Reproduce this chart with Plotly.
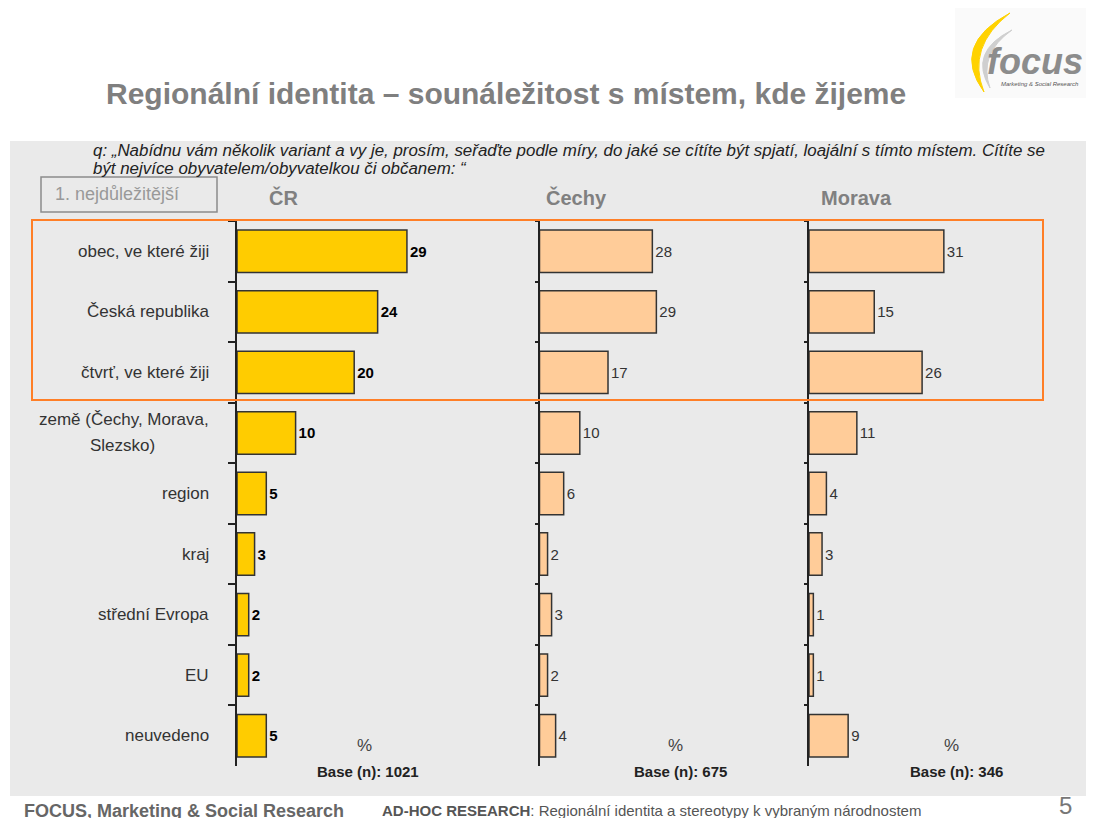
import plotly.graph_objects as go

# page is offset by the default 8px body margin
OFF = 8
FW, FH = 1094 - OFF, 818 - OFF

categories = ["obec, ve které žiji", "Česká republika", "čtvrť, ve které žiji",
              "země (Čechy, Morava, Slezsko)", "region", "kraj",
              "střední Evropa", "EU", "neuvedeno"]
cr_values = [29, 24, 20, 10, 5, 3, 2, 2, 5]
cechy_values = [28, 29, 17, 10, 6, 2, 3, 2, 4]
morava_values = [31, 15, 26, 11, 4, 3, 1, 1, 9]
panel_titles = ["ČR", "Čechy", "Morava"]
bases = ["Base (n): 1021", "Base (n): 675", "Base (n): 346"]

title = "Regionální identita – sounáležitost s místem, kde žijeme"
question_lines = ["q: „Nabídnu vám několik variant a vy je, prosím, seřaďte podle míry, do jaké se cítíte být spjatí, "
                  "loajální s tímto místem. Cítíte se",
                  "být nejvíce obyvatelem/obyvatelkou či občanem: “"]
legend_label = "1. nejdůležitější"
footer_left = "FOCUS, Marketing & Social Research"
footer_mid = "<b>AD-HOC RESEARCH</b>: Regionální identita a stereotypy k vybraným národnostem"
page_no = "5"


def px(x):
    return (x - OFF) / FW


def py(y):
    return 1 - (y - OFF) / FH


def path(points):
    out = []
    for cmd, pts in points:
        s = cmd
        for (x, y) in pts:
            s += f" {px(x):.5f},{py(y):.5f}"
        out.append(s)
    return " ".join(out) + " Z"


FONT = "Liberation Sans, Arial, sans-serif"
ydom = [py(766), py(221)]

fig = go.Figure()

panels = [
    (cr_values, "#FFCC00", dict(color="#000000", size=15, family=FONT, weight="bold"), "x", "y"),
    (cechy_values, "#FFCC99", dict(color="#333333", size=15, family=FONT), "x2", "y2"),
    (morava_values, "#FFCC99", dict(color="#333333", size=15, family=FONT), "x3", "y3"),
]
for vals, col, tf, xa, ya in panels:
    fig.add_trace(go.Bar(
        x=vals, y=categories, orientation="h", xaxis=xa, yaxis=ya,
        marker=dict(color=col, line=dict(color="#333333", width=1.5)),
        width=0.7, text=[str(v) for v in vals], textposition="outside",
        textfont=tf, cliponaxis=False, showlegend=False, hoverinfo="skip"))

xdoms_px = [(237, 537), (539.5, 807), (809, 1085)]
scales = [5.86, 4.03, 4.35]
for i, ((a, b), s) in enumerate(zip(xdoms_px, scales)):
    key = "xaxis" if i == 0 else f"xaxis{i+1}"
    fig.layout[key] = dict(domain=[px(a), px(b)], range=[0, (b - a) / s], visible=False,
                           anchor="y" if i == 0 else f"y{i+1}")
for i in range(3):
    key = "yaxis" if i == 0 else f"yaxis{i+1}"
    fig.layout[key] = dict(
        domain=ydom, type="category", range=[8.5, -0.5],
        anchor="x" if i == 0 else f"x{i+1}",
        showline=True, linecolor="#222222", linewidth=2 if i == 0 else 1.5,
        ticks="outside", ticklen=7 if i == 0 else 3, tickwidth=1.5,
        tickcolor="#222222", tickson="boundaries",
        showticklabels=False, showgrid=False, zeroline=False)

annotations = []
catfont = dict(family=FONT, size=17, color="#333333")
for c in categories:
    if c.startswith("země"):
        annotations.append(dict(x=px(211), y=c, xref="paper", yref="y", text="země (Čechy, Morava,",
                                showarrow=False, xanchor="right", yanchor="middle", yshift=13,
                                font=catfont))
        annotations.append(dict(x=px(123), y=c, xref="paper", yref="y", text="Slezsko)",
                                showarrow=False, xanchor="center", yanchor="middle", yshift=-13,
                                font=catfont))
    else:
        annotations.append(dict(x=px(211), y=c, xref="paper", yref="y", text=c,
                                showarrow=False, xanchor="right", yanchor="middle",
                                font=catfont))
# title
annotations.append(dict(x=px(104), y=py(93), xref="paper", yref="paper", text=title,
                        showarrow=False, xanchor="left", yanchor="middle",
                        font=dict(family=FONT, size=30, color="#7F7F7F", weight="bold")))
# question
for line, yy in zip(question_lines, [151, 169]):
    annotations.append(dict(x=px(91), y=py(yy), xref="paper", yref="paper", text=line,
                            showarrow=False, xanchor="left", yanchor="middle", align="left",
                            font=dict(family=FONT, size=16.9, color="#222222", style="italic")))
# legend label
annotations.append(dict(x=px(53), y=py(194), xref="paper", yref="paper", text=legend_label,
                        showarrow=False, xanchor="left", yanchor="middle",
                        font=dict(family=FONT, size=18, color="#999999")))
# panel titles
for t, x in zip(panel_titles, [267, 544, 819]):
    annotations.append(dict(x=px(x), y=py(198), xref="paper", yref="paper", text=t,
                            showarrow=False, xanchor="left", yanchor="middle",
                            font=dict(family=FONT, size=20, color="#808080", weight="bold")))
# % and bases
for xc_pct, xc_base, b in zip([364, 675, 951], [368, 680, 956], bases):
    annotations.append(dict(x=px(xc_pct), y=py(745), xref="paper", yref="paper", text="%",
                            showarrow=False, xanchor="center", yanchor="middle",
                            font=dict(family=FONT, size=17, color="#444444")))
    annotations.append(dict(x=px(xc_base), y=py(771), xref="paper", yref="paper", text=b,
                            showarrow=False, xanchor="center", yanchor="middle",
                            font=dict(family=FONT, size=15, color="#222222", weight="bold")))
# footer
annotations.append(dict(x=px(22), y=py(811), xref="paper", yref="paper", text=footer_left,
                        showarrow=False, xanchor="left", yanchor="middle",
                        font=dict(family=FONT, size=18, color="#666666", weight="bold")))
annotations.append(dict(x=px(380), y=py(810), xref="paper", yref="paper", text=footer_mid,
                        showarrow=False, xanchor="left", yanchor="middle",
                        font=dict(family=FONT, size=15, color="#555555")))
annotations.append(dict(x=px(1065), y=py(805), xref="paper", yref="paper", text=page_no,
                        showarrow=False, xanchor="center", yanchor="middle",
                        font=dict(family=FONT, size=24, color="#777777")))
# logo text
annotations.append(dict(x=px(1035), y=py(61), xref="paper", yref="paper", text="<i><b>focus</b></i>",
                        showarrow=False, xanchor="center", yanchor="middle",
                        font=dict(family=FONT, size=36, color="#8C8C8C")))
annotations.append(dict(x=px(1040), y=py(84), xref="paper", yref="paper",
                        text="<i>Marketing &amp; Social Research</i>",
                        showarrow=False, xanchor="center", yanchor="middle",
                        font=dict(family=FONT, size=6, color="#555555")))

shapes = [
    dict(type="rect", xref="paper", yref="paper", x0=px(10), x1=px(1094), y0=py(796), y1=py(141),
         fillcolor="#EAEAEA", line=dict(width=0), layer="below"),
    dict(type="rect", xref="paper", yref="paper", x0=px(955), x1=px(1092), y0=py(98), y1=py(8),
         fillcolor="#FAFAFA", line=dict(width=0), layer="below"),
    dict(type="rect", xref="paper", yref="paper", x0=px(32), x1=px(1043), y0=py(400), y1=py(220),
         line=dict(color="#FF7F27", width=2), layer="above"),
    dict(type="rect", xref="paper", yref="paper", x0=px(41), x1=px(217), y0=py(212), y1=py(177),
         line=dict(color="#8C8C8C", width=1.5), layer="above"),
    dict(type="path", xref="paper", yref="paper",
         path=path([("M", [(1010, 13)]), ("Q", [(950, 45), (984, 92)]), ("Q", [(966, 47), (1010, 13)])]),
         fillcolor="#FFD200", line=dict(color="#FFD200", width=1), layer="below"),
    dict(type="path", xref="paper", yref="paper",
         path=path([("M", [(1012, 30)]), ("Q", [(968, 52), (990, 88)]), ("Q", [(978, 54), (1012, 30)])]),
         fillcolor="#CFCFCF", line=dict(color="#CFCFCF", width=1), layer="below"),
]

fig.update_layout(
    width=FW, height=FH, margin=dict(l=0, r=0, t=0, b=0),
    paper_bgcolor="white", plot_bgcolor="rgba(0,0,0,0)",
    annotations=annotations, shapes=shapes, bargap=0.3,
    font=dict(family=FONT),
)

fig.write_html("out.html")
